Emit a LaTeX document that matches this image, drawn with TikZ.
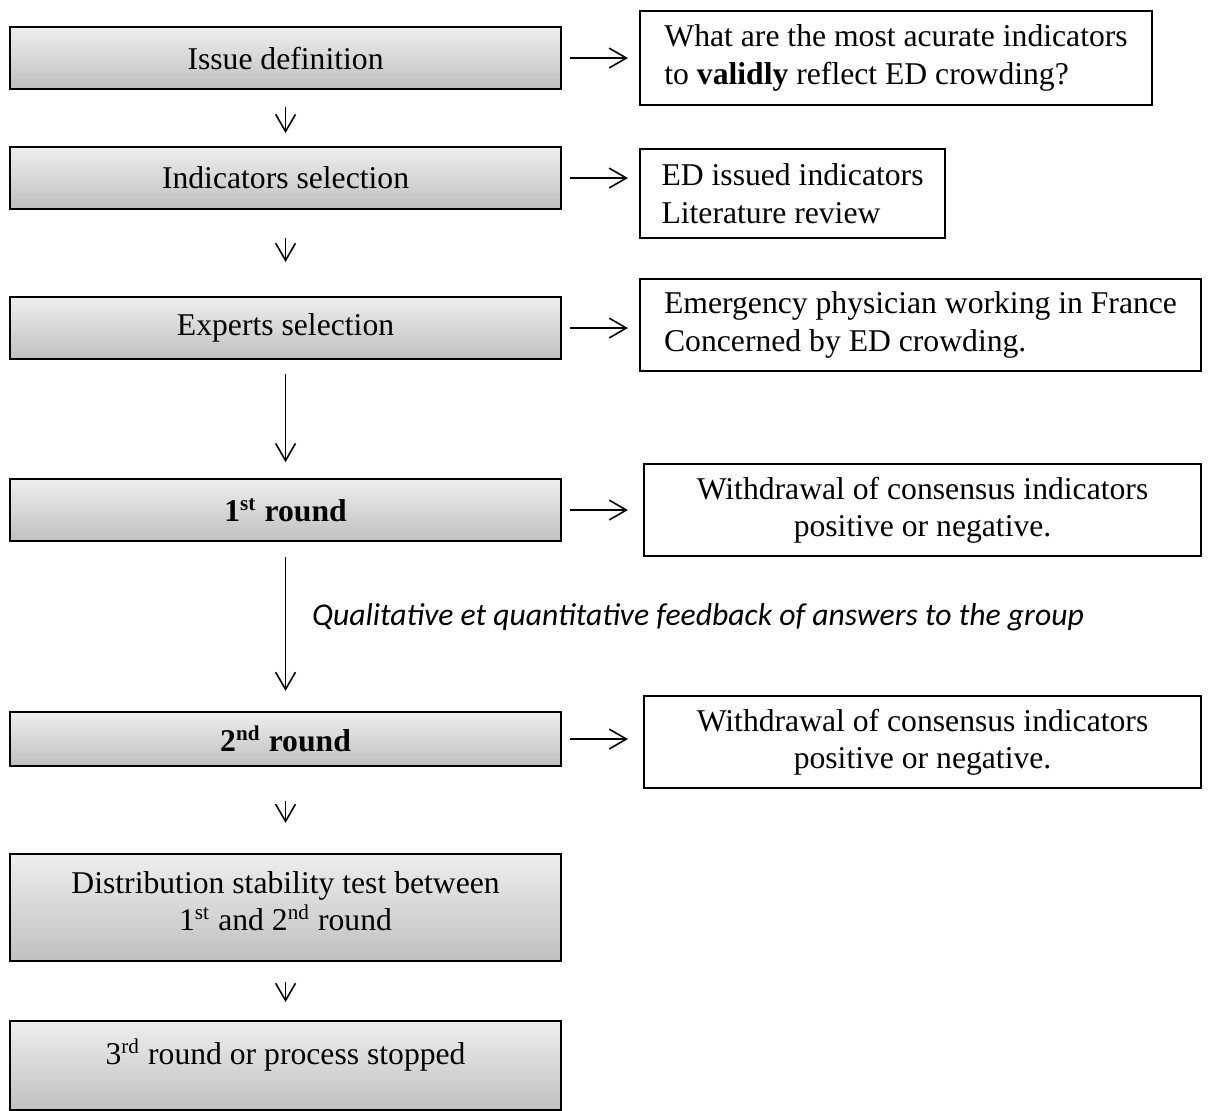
\documentclass[tikz,border=0pt]{standalone}
\usepackage{fontspec}
\setmainfont{Liberation Serif}
\newfontfamily\calfont{Carlito}
\usetikzlibrary{arrows.meta}
\definecolor{gtop}{HTML}{EEEEEE}
\definecolor{gbot}{HTML}{C0C0C0}
\begin{document}
\begin{tikzpicture}[x=0.379pt,y=-0.379pt,
  font=\fontsize{12}{14.2}\selectfont,
  leftbox/.style={draw, line width=0.8pt, top color=gtop, bottom color=gbot,
    minimum width=551*0.379pt, inner sep=0pt, anchor=north west},
  rightbox/.style={draw, line width=0.8pt, fill=white, inner sep=0pt, anchor=north west},
  arr/.style={line width=0.6pt, -{Straight Barb[length=6.5pt,width=7.5pt]}},
]
\useasboundingbox (0,0) rectangle (1216,1111);

% left column
\node[leftbox, minimum height=62*0.379pt] (b1) at (9,26) {Issue definition};
\node[leftbox, minimum height=62*0.379pt] (b2) at (9,146) {Indicators selection};
\node[leftbox, minimum height=62*0.379pt] (b3) at (9,296) {Experts selection};
\node[leftbox, minimum height=62*0.379pt] (b4) at (9,478) {\textbf{1\textsuperscript{st} round}};
\node[leftbox, minimum height=54*0.379pt] (b5) at (9,711) {\textbf{2\textsuperscript{nd} round}};
\node[leftbox, minimum height=107*0.379pt] (b6) at (9,853) {};
\node[align=center, anchor=north, inner sep=0pt] (b6t) at ([yshift=-18*0.379pt]b6.north)
  {Distribution stability test between\\1\textsuperscript{st} and 2\textsuperscript{nd} round};
\node[leftbox, minimum height=89*0.379pt] (b7) at (9,1020) {};
\node[anchor=north, inner sep=0pt] (b7t) at ([yshift=-18*0.379pt]b7.north)
  {3\textsuperscript{rd} round or process stopped};

% right column
\node[rightbox, minimum width=512*0.379pt, minimum height=94*0.379pt,
  align=left] (r1) at (639,10)
  {What are the most acurate indicators\\to \textbf{validly} reflect ED crowding?};
\node[rightbox, minimum width=305*0.379pt, minimum height=89*0.379pt,
  align=left] (r2) at (639,148)
  {ED issued indicators\\Literature review};
\node[rightbox, minimum width=561*0.379pt, minimum height=92*0.379pt,
  align=left] (r3) at (639,278)
  {Emergency physician working in France\\Concerned by ED crowding.};
\node[rightbox, minimum width=557*0.379pt, minimum height=92*0.379pt,
  align=center] (r4) at (643,463)
  {Withdrawal of consensus indicators\\positive or negative.};
\node[rightbox, minimum width=557*0.379pt, minimum height=92*0.379pt,
  align=center] (r5) at (643,695)
  {Withdrawal of consensus indicators\\positive or negative.};

% feedback label
\node[font=\calfont\itshape\fontsize{12}{14}\selectfont] (fb) at (698,617)
  {Qualitative et quantitative feedback of answers to the group};

% horizontal arrows
\draw[arr, shorten <=3pt, shorten >=4.2pt] (b1.east) -- (b1.east -| r1.west);
\draw[arr, shorten <=3pt, shorten >=4.2pt] (b2.east) -- (b2.east -| r2.west);
\draw[arr, shorten <=3pt, shorten >=4.2pt] (b3.east) -- (b3.east -| r3.west);
\draw[arr, shorten <=3pt, shorten >=5.7pt] (b4.east) -- (b4.east -| r4.west);
\draw[arr, shorten <=3pt, shorten >=5.7pt] (b5.east) -- (b5.east -| r5.west);

% vertical arrows
\draw[arr, shorten <=6.4pt, shorten >=4.9pt] (b1.south) -- (b2.north);
\draw[arr, shorten <=10.6pt, shorten >=12.9pt] (b2.south) -- (b3.north);
\draw[arr, shorten <=5.3pt, shorten >=6pt] (b3.south) -- (b4.north);
\draw[arr, shorten <=5.7pt, shorten >=7.6pt] (b4.south) -- (b5.north);
\draw[arr, shorten <=12.9pt, shorten >=11.4pt] (b5.south) -- (b6.north);
\draw[arr, shorten <=7.6pt, shorten >=6.8pt] (b6.south) -- (b7.north);
\end{tikzpicture}
\end{document}
